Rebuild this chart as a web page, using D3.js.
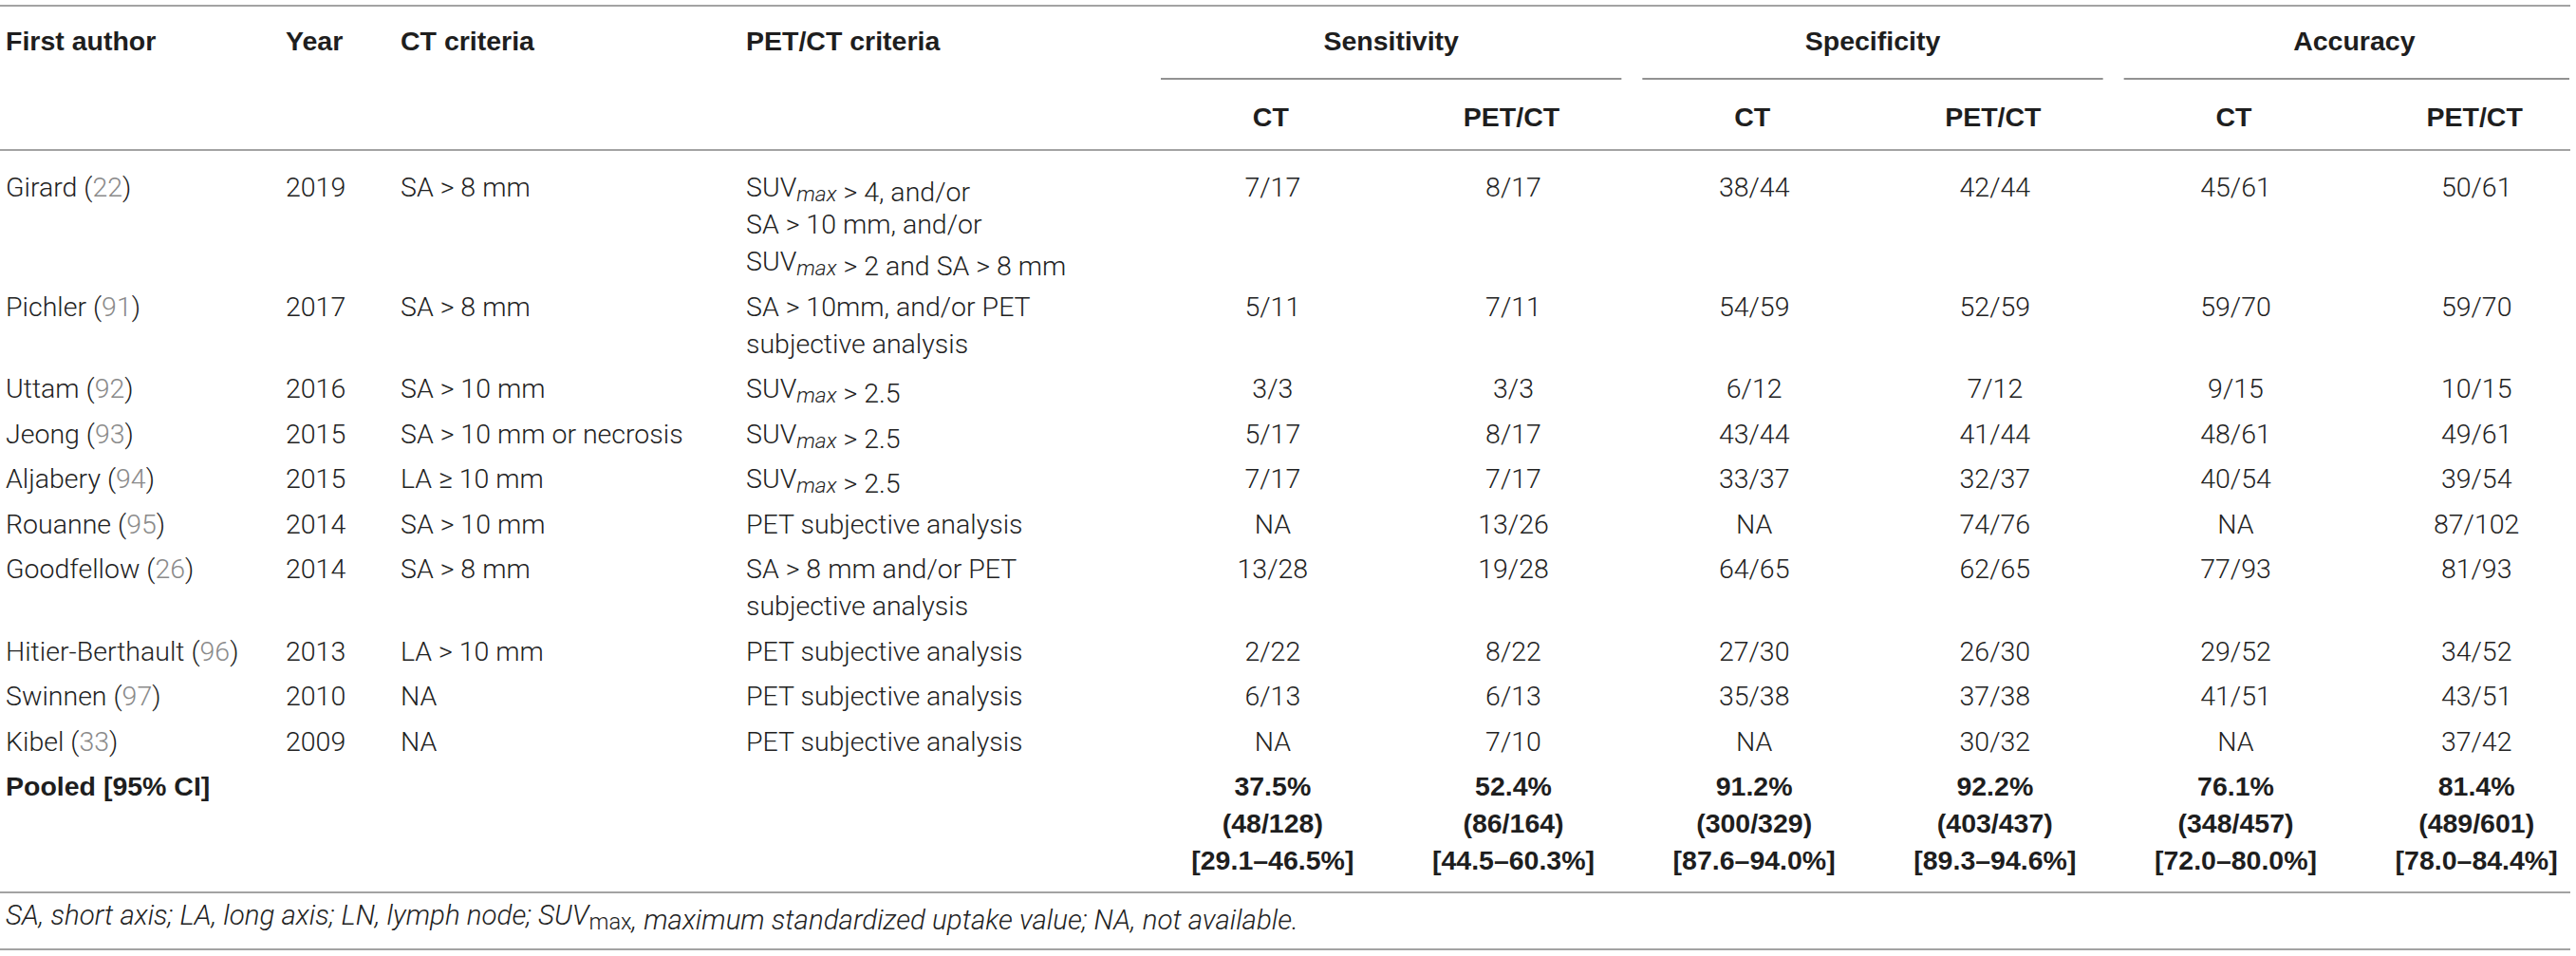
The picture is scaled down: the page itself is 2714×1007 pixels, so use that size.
<!DOCTYPE html>
<html>
<head>
<meta charset="utf-8">
<script src="https://cdn.jsdelivr.net/npm/d3@7"></script>
<style>
  html, body { margin: 0; padding: 0; background: #fff; }
  svg text { font-family: "Liberation Sans", Arial, Helvetica, sans-serif; }
  svg .light text { font-family: Roboto, "Liberation Sans", Arial, sans-serif; font-weight: 300; }
</style>
</head>
<body>
<svg id="table" width="2714" height="1007"></svg>
<script>
// table data, one array per column
var authors = ["Girard", "Pichler", "Uttam", "Jeong", "Aljabery", "Rouanne", "Goodfellow", "Hitier-Berthault", "Swinnen", "Kibel"];
var refs = ["22", "91", "92", "93", "94", "95", "26", "96", "97", "33"];
var years = ["2019", "2017", "2016", "2015", "2015", "2014", "2014", "2013", "2010", "2009"];
var ctCriteria = ["SA > 8 mm", "SA > 8 mm", "SA > 10 mm", "SA > 10 mm or necrosis", "LA \u2265 10 mm", "SA > 10 mm", "SA > 8 mm", "LA > 10 mm", "NA", "NA"];
var petCriteria = [
  ["SUVmax > 4, and/or", "SA > 10 mm, and/or", "SUVmax > 2 and SA > 8 mm"],
  ["SA > 10mm, and/or PET", "subjective analysis"],
  ["SUVmax > 2.5"],
  ["SUVmax > 2.5"],
  ["SUVmax > 2.5"],
  ["PET subjective analysis"],
  ["SA > 8 mm and/or PET", "subjective analysis"],
  ["PET subjective analysis"],
  ["PET subjective analysis"],
  ["PET subjective analysis"]
];
var sensCT  = ["7/17", "5/11", "3/3", "5/17", "7/17", "NA", "13/28", "2/22", "6/13", "NA"];
var sensPET = ["8/17", "7/11", "3/3", "8/17", "7/17", "13/26", "19/28", "8/22", "6/13", "7/10"];
var specCT  = ["38/44", "54/59", "6/12", "43/44", "33/37", "NA", "64/65", "27/30", "35/38", "NA"];
var specPET = ["42/44", "52/59", "7/12", "41/44", "32/37", "74/76", "62/65", "26/30", "37/38", "30/32"];
var accCT   = ["45/61", "59/70", "9/15", "48/61", "40/54", "NA", "77/93", "29/52", "41/51", "NA"];
var accPET  = ["50/61", "59/70", "10/15", "49/61", "39/54", "87/102", "81/93", "34/52", "43/51", "37/42"];

var pooledPct    = ["37.5%", "52.4%", "91.2%", "92.2%", "76.1%", "81.4%"];
var pooledCounts = ["(48/128)", "(86/164)", "(300/329)", "(403/437)", "(348/457)", "(489/601)"];
var pooledCI     = ["[29.1\u201346.5%]", "[44.5\u201360.3%]", "[87.6\u201394.0%]", "[89.3\u201394.6%]", "[72.0\u201380.0%]", "[78.0\u201384.4%]"];

var groups = ["Sensitivity", "Specificity", "Accuracy"];
var subHeads = ["CT", "PET/CT", "CT", "PET/CT", "CT", "PET/CT"];
var footnote = "SA, short axis; LA, long axis; LN, lymph node; SUVmax, maximum standardized uptake value; NA, not available.";

var fs = 28.5, lineH = 39, rowGap = 8.5;
var textCol = "#222", refCol = "#8a8a8a", ruleCol = "#a3a3a3";

var svg = d3.select("#table");

// columns
var xLeft = d3.scaleOrdinal()
  .domain(["author", "year", "ct", "pet"])
  .range([6, 301, 422, 786]);
var subKeys = d3.range(6);
var xSub = d3.scaleBand().domain(subKeys).range([1214, 2736]);
var xGroup = d3.scaleBand().domain(groups).range([1214, 2736]);

// rows: offset of each row's first line, stacked by number of lines
var rowLines = petCriteria.map(function(p) { return p.length; });
var rowY = [];
var acc = 0;
rowLines.forEach(function(n) { rowY.push(acc); acc += n * lineH + rowGap; });
var y = d3.scaleLinear().domain([0, 1]).range([197, 198]);
var pooledY = y(acc);

function base(cy, size) { return cy + 0.36 * (size || fs); }

function rule(y0, x0, x1, col, w) {
  svg.append("line").attr("x1", x0).attr("x2", x1).attr("y1", y0).attr("y2", y0)
    .attr("stroke", col).attr("stroke-width", w);
}

// text with the SUVmax subscript
function richText(sel, str, italicSub, size) {
  size = size || fs;
  var parts = str.split("SUVmax");
  parts.forEach(function(p, i) {
    if (i > 0) {
      sel.append("tspan").text("SUV");
      sel.append("tspan").text("max")
        .attr("font-size", size * 0.8)
        .attr("font-style", italicSub ? "italic" : "normal")
        .attr("dy", 5);
      sel.append("tspan").attr("dy", -5).text("");
    }
    if (p.length) sel.append("tspan").text(p);
  });
}

// rules
rule(6, 0, 2708, ruleCol, 2);
groups.forEach(function(g) {
  var x0 = xGroup(g) + 9;
  var x1 = Math.min(xGroup(g) + xGroup.bandwidth() - 13, 2707);
  rule(83, x0, x1, "#6e6e6e", 1.5);
});
rule(158, 0, 2708, ruleCol, 2);
rule(940, 0, 2708, ruleCol, 2);
rule(1000, 0, 2708, ruleCol, 2);

// header
var head = svg.append("g").attr("font-weight", "bold").attr("font-size", fs).attr("fill", "#1e1e1e");
[["author", "First author"], ["year", "Year"], ["ct", "CT criteria"], ["pet", "PET/CT criteria"]].forEach(function(h) {
  head.append("text").attr("x", xLeft(h[0])).attr("y", base(43)).text(h[1]);
});
groups.forEach(function(g) {
  head.append("text").attr("x", xGroup(g) + xGroup.bandwidth() / 2 - 2).attr("y", base(43))
    .attr("text-anchor", "middle").text(g);
});
subKeys.forEach(function(k) {
  head.append("text").attr("x", xSub(k) + xSub.bandwidth() / 2 - 2).attr("y", base(123))
    .attr("text-anchor", "middle").text(subHeads[k]);
});

// body rows
var body = svg.append("g").attr("class", "light").attr("font-size", fs).attr("fill", textCol);
var valueCols = [sensCT, sensPET, specCT, specPET, accCT, accPET];

authors.forEach(function(a, r) {
  var cy = y(rowY[r]);
  var t = body.append("text").attr("x", xLeft("author")).attr("y", base(cy));
  t.append("tspan").text(a + " (");
  t.append("tspan").attr("fill", refCol).text(refs[r]);
  t.append("tspan").text(")");

  body.append("text").attr("x", xLeft("year")).attr("y", base(cy)).text(years[r]);
  body.append("text").attr("x", xLeft("ct")).attr("y", base(cy)).text(ctCriteria[r]);

  petCriteria[r].forEach(function(line, li) {
    var tt = body.append("text").attr("x", xLeft("pet")).attr("y", base(cy + li * lineH));
    richText(tt, line, true);
  });

  valueCols.forEach(function(col, k) {
    body.append("text").attr("x", xSub(k) + xSub.bandwidth() / 2).attr("y", base(cy))
      .attr("text-anchor", "middle").text(col[r]);
  });
});

// pooled row
var pooled = svg.append("g").attr("font-size", fs).attr("font-weight", "bold").attr("fill", "#1e1e1e");
pooled.append("text").attr("x", xLeft("author")).attr("y", base(pooledY)).text("Pooled [95% CI]");
subKeys.forEach(function(k) {
  [pooledPct, pooledCounts, pooledCI].forEach(function(arr, li) {
    pooled.append("text").attr("x", xSub(k) + xSub.bandwidth() / 2).attr("y", base(pooledY + li * lineH))
      .attr("text-anchor", "middle").text(arr[k]);
  });
});

// footnote
var fnSize = 29.5;
var foot = svg.append("g").attr("class", "light");
var fn = foot.append("text").attr("x", 6).attr("y", base(963, fnSize))
  .attr("font-size", fnSize).attr("font-style", "italic").attr("fill", textCol);
richText(fn, footnote, false, fnSize);
</script>
</body>
</html>
